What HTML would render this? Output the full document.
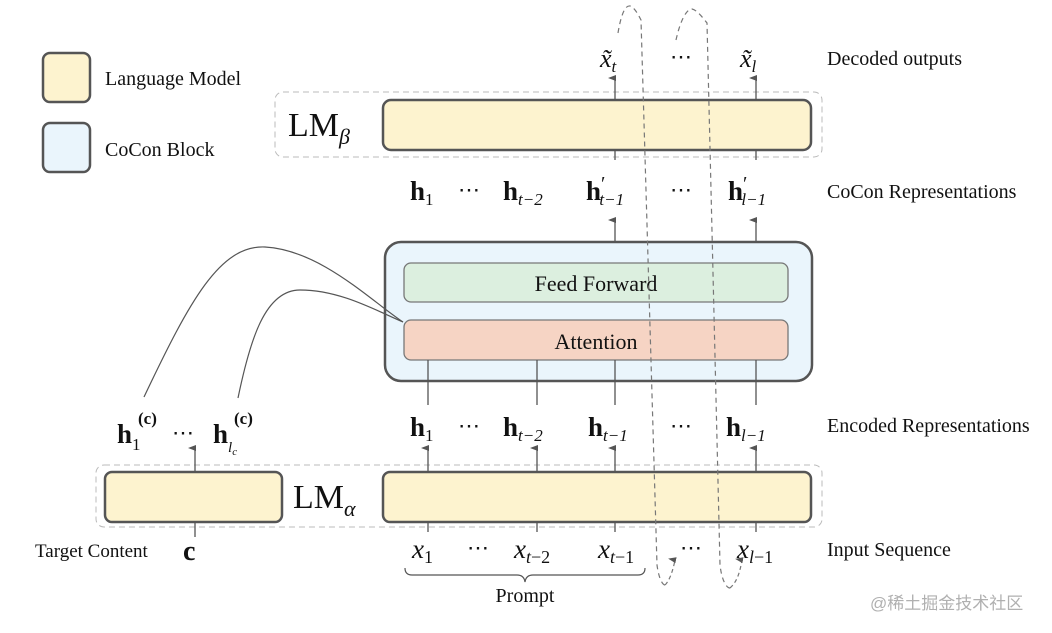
<!DOCTYPE html>
<html><head><meta charset="utf-8"><style>
html,body{margin:0;padding:0;background:#fff;}
svg{display:block;}
text{font-family:"Liberation Serif",serif;fill:#111;}
</style></head><body>
<svg width="1052" height="633" viewBox="0 0 1052 633" xmlns="http://www.w3.org/2000/svg">
<defs>
<marker id="a" markerWidth="8" markerHeight="8" refX="4" refY="7" orient="auto-start-reverse" markerUnits="userSpaceOnUse">
<path d="M1,8 L4,0 L7,8 Z" fill="#555"/></marker>
</defs>
<rect x="43" y="53" width="47" height="49" rx="7" fill="#fdf3cf" stroke="#555" stroke-width="2.5"/>
<rect x="43" y="123" width="47" height="49" rx="7" fill="#eaf5fc" stroke="#555" stroke-width="2.5"/>
<text x="105" y="85" font-size="20">Language Model</text>
<text x="105" y="156" font-size="20">CoCon Block</text>

<rect x="275" y="92" width="547" height="65" rx="8" fill="none" stroke="#bbb" stroke-dasharray="6,4"/>
<rect x="383" y="100" width="428" height="50" rx="8" fill="#fdf3cf" stroke="#555" stroke-width="2.5"/>
<text x="288" y="136" font-size="34">LM<tspan font-size="22" font-style="italic" dy="8">β</tspan></text>

<line x1="615" y1="100" x2="615" y2="78" stroke="#555" stroke-width="1.3" marker-end="url(#a)"/>
<line x1="756" y1="100" x2="756" y2="78" stroke="#555" stroke-width="1.3" marker-end="url(#a)"/>
<text x="600" y="67" font-size="26" font-style="italic">x̃<tspan font-size="17" dy="5">t</tspan></text>
<text x="670" y="64" font-size="22">⋯</text>
<text x="740" y="67" font-size="26" font-style="italic">x̃<tspan font-size="17" dy="5">l</tspan></text>

<g font-size="27" font-weight="bold">
<text x="410" y="200">h<tspan font-size="17" font-weight="normal" dy="5">1</tspan></text>
<text x="458" y="197" font-weight="normal" font-size="22">⋯</text>
<text x="503" y="200">h<tspan font-size="17" font-weight="normal" font-style="italic" dy="5">t−2</tspan></text>
<text x="586" y="200">h<tspan font-size="20" font-weight="normal" dy="-10">′</tspan><tspan font-size="17" font-weight="normal" font-style="italic" dx="-6" dy="15">t−1</tspan></text>
<text x="670" y="197" font-weight="normal" font-size="22">⋯</text>
<text x="728" y="200">h<tspan font-size="20" font-weight="normal" dy="-10">′</tspan><tspan font-size="17" font-weight="normal" font-style="italic" dx="-6" dy="15">l−1</tspan></text>
</g>
<line x1="615" y1="242" x2="615" y2="220" stroke="#555" stroke-width="1.3" marker-end="url(#a)"/>
<line x1="756" y1="242" x2="756" y2="220" stroke="#555" stroke-width="1.3" marker-end="url(#a)"/>
<line x1="615" y1="150" x2="615" y2="160" stroke="#555" stroke-width="1.3"/>
<line x1="756" y1="150" x2="756" y2="160" stroke="#555" stroke-width="1.3"/>

<rect x="385" y="242" width="427" height="139" rx="16" fill="#eaf5fc" stroke="#555" stroke-width="2.5"/>
<rect x="404" y="263" width="384" height="39" rx="7" fill="#dcefdf" stroke="#777" stroke-width="1.3"/>
<rect x="404" y="320" width="384" height="40" rx="7" fill="#f6d4c4" stroke="#777" stroke-width="1.3"/>
<text x="596" y="291" font-size="22" text-anchor="middle">Feed Forward</text>
<text x="596" y="349" font-size="22" text-anchor="middle">Attention</text>

<g stroke="#555" stroke-width="1.3">
<line x1="428" y1="360" x2="428" y2="405"/>
<line x1="537" y1="360" x2="537" y2="405"/>
<line x1="615" y1="360" x2="615" y2="405"/>
<line x1="756" y1="360" x2="756" y2="405"/>
</g>

<path d="M144,397 C190,300 220,245 265,247 C320,250 370,300 403,322" fill="none" stroke="#555" stroke-width="1.2"/>
<path d="M238,398 C250,340 265,290 300,290 C340,290 375,310 403,322" fill="none" stroke="#555" stroke-width="1.2"/>

<g font-size="27" font-weight="bold">
<text x="410" y="436">h<tspan font-size="17" font-weight="normal" dy="5">1</tspan></text>
<text x="458" y="433" font-weight="normal" font-size="22">⋯</text>
<text x="503" y="436">h<tspan font-size="17" font-weight="normal" font-style="italic" dy="5">t−2</tspan></text>
<text x="588" y="436">h<tspan font-size="17" font-weight="normal" font-style="italic" dy="5">t−1</tspan></text>
<text x="670" y="433" font-weight="normal" font-size="22">⋯</text>
<text x="726" y="436">h<tspan font-size="17" font-weight="normal" font-style="italic" dy="5">l−1</tspan></text>
<text x="117" y="443">h<tspan font-size="17" font-weight="normal" dy="7">1</tspan></text>
<text x="138" y="424" font-size="17">(c)</text>
<text x="172" y="440" font-weight="normal" font-size="22">⋯</text>
<text x="213" y="443">h<tspan font-size="15" font-weight="normal" font-style="italic" dy="9">l<tspan font-size="11" dy="3">c</tspan></tspan></text>
<text x="234" y="424" font-size="17">(c)</text>
</g>

<rect x="96" y="465" width="726" height="62" rx="8" fill="none" stroke="#bbb" stroke-dasharray="6,4"/>
<rect x="105" y="472" width="177" height="50" rx="7" fill="#fdf3cf" stroke="#555" stroke-width="2.5"/>
<rect x="383" y="472" width="428" height="50" rx="7" fill="#fdf3cf" stroke="#555" stroke-width="2.5"/>
<text x="293" y="508" font-size="34">LM<tspan font-size="22" font-style="italic" dy="8">α</tspan></text>

<g stroke="#555" stroke-width="1.3">
<line x1="428" y1="472" x2="428" y2="448" marker-end="url(#a)"/>
<line x1="537" y1="472" x2="537" y2="448" marker-end="url(#a)"/>
<line x1="615" y1="472" x2="615" y2="448" marker-end="url(#a)"/>
<line x1="756" y1="472" x2="756" y2="448" marker-end="url(#a)"/>
<line x1="195" y1="472" x2="195" y2="448" marker-end="url(#a)"/>
<line x1="428" y1="522" x2="428" y2="532"/>
<line x1="537" y1="522" x2="537" y2="532"/>
<line x1="615" y1="522" x2="615" y2="532"/>
<line x1="756" y1="522" x2="756" y2="532"/>
<line x1="195" y1="522" x2="195" y2="537"/>
</g>

<g fill="none" stroke="#777" stroke-width="1.2" stroke-dasharray="5,4">
<path d="M618,33 C621,15 625,5 630,6 C634,7 638,14 641,20 L657,565 C659,580 663,585 665,585"/>
<path d="M676,40 C680,22 686,9 692,9 C697,10 703,18 707,23 L720,565 C722,582 727,588 730,588"/>
</g>
<path d="M665,585 C670,580 673,570 675,560" fill="none" stroke="#777" stroke-width="1.2" stroke-dasharray="4,3" marker-end="url(#a)"/>
<path d="M730,588 C737,582 740,572 742,560" fill="none" stroke="#777" stroke-width="1.2" stroke-dasharray="4,3" marker-end="url(#a)"/>

<g font-size="27" font-style="italic">
<text x="412" y="558">x<tspan font-size="18" font-style="normal" dy="5">1</tspan></text>
<text x="467" y="555" font-style="normal" font-size="22">⋯</text>
<text x="514" y="558">x<tspan font-size="18" dy="5">t<tspan font-style="normal">−2</tspan></tspan></text>
<text x="598" y="558">x<tspan font-size="18" dy="5">t<tspan font-style="normal">−1</tspan></tspan></text>
<text x="680" y="555" font-style="normal" font-size="22">⋯</text>
<text x="737" y="558">x<tspan font-size="18" dy="5">l<tspan font-style="normal">−1</tspan></tspan></text>
</g>
<text x="183" y="560" font-size="28" font-weight="bold">c</text>
<text x="35" y="557" font-size="19">Target Content</text>

<path d="M405,568 Q405,575 412,575 L517,575 Q524,575 525,582 Q526,575 533,575 L638,575 Q645,575 645,568" fill="none" stroke="#555" stroke-width="1.2"/>
<text x="525" y="602" font-size="20" text-anchor="middle">Prompt</text>

<text x="827" y="65" font-size="20">Decoded outputs</text>
<text x="827" y="198" font-size="20">CoCon Representations</text>
<text x="827" y="432" font-size="20">Encoded Representations</text>
<text x="827" y="556" font-size="20">Input Sequence</text>
<text x="870" y="609" font-size="17" style="font-family:'Liberation Sans','Noto Sans CJK SC',sans-serif;fill:#b0b0b0">@稀土掘金技术社区</text>
</svg>
</body></html>
